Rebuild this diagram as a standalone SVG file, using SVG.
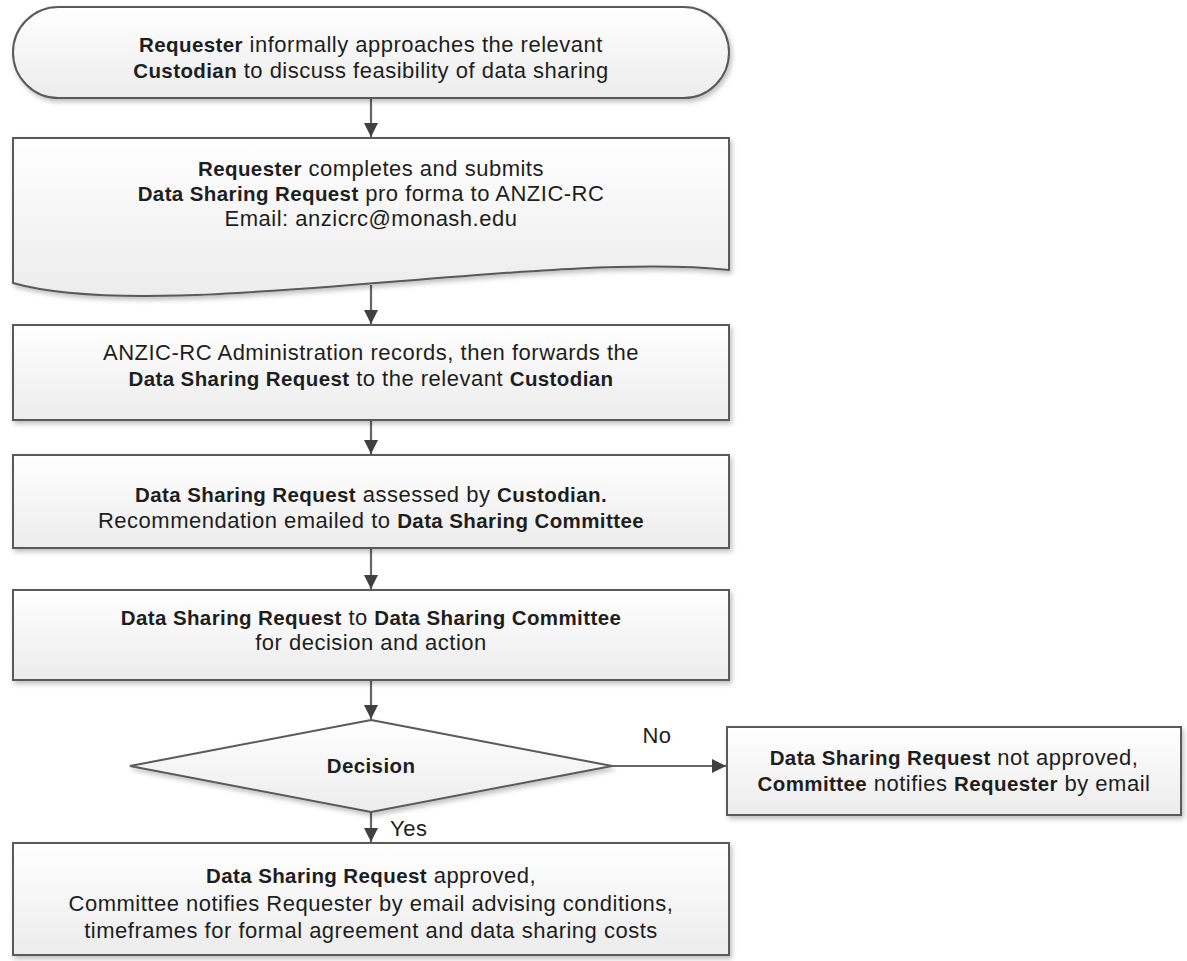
<svg xmlns="http://www.w3.org/2000/svg" width="1187" height="961" viewBox="0 0 1187 961">
  <defs>
    <linearGradient id="fillGrad" x1="0" y1="0" x2="0" y2="1">
      <stop offset="0" stop-color="#ffffff"/>
      <stop offset="1" stop-color="#ececec"/>
    </linearGradient>
    <filter id="shadow" x="-5%" y="-10%" width="110%" height="130%">
      <feGaussianBlur in="SourceAlpha" stdDeviation="2.5"/>
      <feOffset dx="2" dy="3" result="b"/>
      <feComponentTransfer><feFuncA type="linear" slope="0.25"/></feComponentTransfer>
      <feMerge><feMergeNode/><feMergeNode in="SourceGraphic"/></feMerge>
    </filter>
    <marker id="arrow" viewBox="0 0 14 14" refX="14" refY="7" markerWidth="14" markerHeight="14" markerUnits="userSpaceOnUse" orient="auto">
      <path d="M0,0 L14,7 L0,14 Z" fill="#404040"/>
    </marker>
  </defs>
  <style>
    .shape { fill: url(#fillGrad); stroke: #5a5a5a; stroke-width: 2; filter: url(#shadow); }
    .conn { stroke: #666666; stroke-width: 2.2; fill: none; marker-end: url(#arrow); }
    text { font-family: "Liberation Sans", Arial, sans-serif; font-size: 22px; fill: #1e1e1e; letter-spacing: 0.5px; }
    .c { text-anchor: middle; }
    .b { font-weight: bold; font-size: 20.5px; letter-spacing: 0.4px; }
  </style>
  <rect width="1187" height="961" fill="#ffffff"/>

  <g id="connectors">
    <line class="conn" x1="371" y1="98" x2="371" y2="137"/>
    <line class="conn" x1="371" y1="285" x2="371" y2="324"/>
    <line class="conn" x1="371" y1="420" x2="371" y2="454"/>
    <line class="conn" x1="371" y1="548" x2="371" y2="589"/>
    <line class="conn" x1="371" y1="680" x2="371" y2="719"/>
    <line class="conn" x1="371" y1="812" x2="371" y2="842"/>
    <line class="conn" x1="612" y1="766" x2="726" y2="766"/>
    <text x="657" y="743" class="c">No</text>
    <text x="390" y="836">Yes</text>
  </g>

  <g id="start">
    <rect class="shape" x="13" y="7" width="716" height="91" rx="45.5" ry="45.5"/>
    <text x="371" y="52" class="c"><tspan class="b">Requester</tspan> informally approaches the relevant</text>
    <text x="371" y="78" class="c"><tspan class="b">Custodian</tspan> to discuss feasibility of data sharing</text>
  </g>

  <g id="submit">
    <path class="shape" d="M13,138 L729,138 L729,270 C540,250 160,325 13,283 Z"/>
    <text x="371" y="176" class="c"><tspan class="b">Requester</tspan> completes and submits</text>
    <text x="371" y="201" class="c"><tspan class="b">Data Sharing Request</tspan> pro forma to ANZIC-RC</text>
    <text x="371" y="226" class="c">Email: anzicrc@monash.edu</text>
  </g>

  <g id="records">
    <rect class="shape" x="13" y="325" width="716" height="95"/>
    <text x="371" y="360" class="c">ANZIC-RC Administration records, then forwards the</text>
    <text x="371" y="386" class="c"><tspan class="b">Data Sharing Request</tspan> to the relevant <tspan class="b">Custodian</tspan></text>
  </g>

  <g id="assessed">
    <rect class="shape" x="13" y="455" width="716" height="93"/>
    <text x="371" y="502" class="c"><tspan class="b">Data Sharing Request</tspan> assessed by <tspan class="b">Custodian.</tspan></text>
    <text x="371" y="528" class="c">Recommendation emailed to <tspan class="b">Data Sharing Committee</tspan></text>
  </g>

  <g id="committee">
    <rect class="shape" x="13" y="590" width="716" height="90"/>
    <text x="371" y="625" class="c"><tspan class="b">Data Sharing Request</tspan> to <tspan class="b">Data Sharing Committee</tspan></text>
    <text x="371" y="650" class="c">for decision and action</text>
  </g>

  <g id="decision">
    <polygon class="shape" points="371,720 612,766 371,812 130,766"/>
    <text x="371" y="773" class="c b">Decision</text>
  </g>

  <g id="rejected">
    <rect class="shape" x="727" y="727" width="454" height="88"/>
    <text x="954" y="765" class="c"><tspan class="b">Data Sharing Request</tspan> not approved,</text>
    <text x="954" y="791" class="c"><tspan class="b">Committee</tspan> notifies <tspan class="b">Requester</tspan> by email</text>
  </g>

  <g id="approved">
    <rect class="shape" x="13" y="843" width="716" height="112"/>
    <text x="371" y="883" class="c"><tspan class="b">Data Sharing Request</tspan> approved,</text>
    <text x="371" y="911" class="c">Committee notifies Requester by email advising conditions,</text>
    <text x="371" y="938" class="c">timeframes for formal agreement and data sharing costs</text>
  </g>
</svg>
